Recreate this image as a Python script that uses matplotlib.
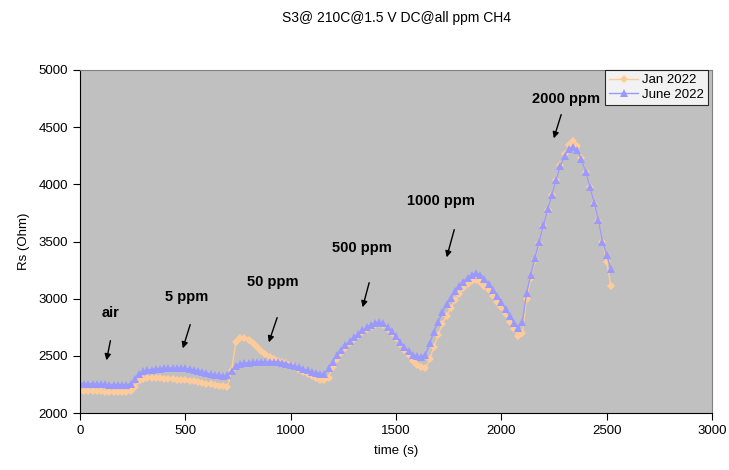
import numpy as np
import matplotlib
matplotlib.use("Agg")
import matplotlib.pyplot as plt

plt.rcParams['font.family'] = ['Liberation Sans', 'DejaVu Sans']

# time axis (s), one reading every 20 s
time_s = np.arange(0, 2521, 20)

# Jan 2022 readings (Ohm)
jan_2022 = [
    2195, 2195, 2190, 2190, 2190, 2190, 2188, 2188, 2188, 2188, 2185, 2185, 2190,
    2230, 2280, 2300, 2305, 2305, 2305, 2302, 2300, 2298, 2295, 2292, 2290, 2287,
    2283, 2278, 2272, 2265, 2258, 2250, 2243, 2237, 2232, 2228,
    2380, 2620, 2660, 2660, 2640, 2610, 2575, 2545, 2515, 2490, 2470, 2455, 2445,
    2435, 2420, 2400, 2380, 2360, 2340, 2320, 2305, 2293, 2287,
    2310, 2400, 2470, 2525, 2570, 2608, 2643, 2678, 2708, 2733, 2753, 2768, 2778,
    2768, 2738, 2698, 2653, 2603, 2553, 2503, 2458, 2423, 2400, 2390,
    2470, 2580, 2680, 2780, 2850, 2920, 2985, 3040, 3090, 3130, 3155, 3165,
    3150, 3115, 3075, 3025, 2975, 2925, 2865, 2800, 2735, 2670, 2700,
    3000, 3180, 3340, 3490, 3635, 3775, 3910, 4040, 4165, 4265, 4340, 4375,
    4335, 4230, 4110, 3980, 3830, 3680, 3500, 3320, 3110,
]

# June 2022 readings (Ohm)
june_2022 = [
    2260, 2258, 2255, 2255, 2252, 2250, 2250, 2248, 2248, 2247, 2247, 2248, 2255,
    2300, 2345, 2365, 2375, 2380, 2385, 2388, 2390, 2392, 2393, 2393, 2392, 2390,
    2385, 2378, 2370, 2360, 2350, 2340, 2333, 2328, 2325, 2328,
    2370, 2415, 2430, 2437, 2440, 2442, 2443, 2445, 2447, 2448, 2448, 2445, 2440,
    2432, 2422, 2410, 2398, 2385, 2372, 2360, 2350, 2345, 2345,
    2390, 2450, 2505, 2555, 2595, 2630, 2665, 2695, 2725, 2750, 2770, 2785, 2795,
    2785, 2755, 2715, 2670, 2625, 2580, 2540, 2510, 2495, 2490, 2510,
    2610, 2710, 2800, 2880, 2950, 3010, 3065, 3110, 3150, 3185, 3210, 3222,
    3210, 3175, 3130, 3080, 3025, 2970, 2910, 2850, 2790, 2745, 2800,
    3050, 3210, 3360, 3500, 3640, 3780, 3910, 4040, 4160, 4250, 4310, 4330,
    4300, 4220, 4110, 3980, 3840, 3690, 3500, 3380, 3260,
]

# annotations: label, text position (t, Rs), arrow tail, arrow head
labels = ['air', '5 ppm', '50 ppm', '500 ppm', '1000 ppm', '2000 ppm']
label_pos = [(147, 2875), (508, 3015), (916, 3146), (1338, 3443), (1713, 3854), (2307, 4746)]
arrow_tail = [(147, 2656), (527, 2796), (940, 2857), (1376, 3163), (1780, 3627), (2288, 4633)]
arrow_head = [(123, 2437), (484, 2542), (892, 2595), (1338, 2901), (1737, 3338), (2245, 4379)]

fig = plt.figure(figsize=(7.29, 4.70), dpi=100)
ax = fig.add_axes([80 / 729, 1 - 413 / 470, 632 / 729, 343 / 470])
ax.set_facecolor('#C0C0C0')

ax.plot(time_s, jan_2022, color='#FFCC99', marker='D', markersize=4.5,
        markeredgewidth=0, linewidth=1, label='Jan 2022')
ax.plot(time_s, june_2022, color='#9999FF', marker='^', markersize=6,
        markeredgewidth=0, linewidth=1, label='June 2022')

for txt, pos, tail, head in zip(labels, label_pos, arrow_tail, arrow_head):
    ax.text(pos[0], pos[1], txt, fontsize=10.5, fontweight='bold', ha='center', va='center')
    ax.annotate('', xy=head, xytext=tail,
                arrowprops=dict(arrowstyle='-|>', color='black', lw=1, mutation_scale=9))

ax.set_xlim(0, 3000)
ax.set_ylim(2000, 5000)
ax.set_xticks(range(0, 3001, 500))
ax.set_yticks(range(2000, 5001, 500))
ax.tick_params(labelsize=9.5, length=5, direction='out', width=0.8)
for side in ['left', 'bottom']:
    ax.spines[side].set_color('black')
for side in ['top', 'right']:
    ax.spines[side].set_color('#808080')

ax.set_xlabel('time (s)', fontsize=9.5, labelpad=6)
ax.set_ylabel('Rs (Ohm)', fontsize=9.5, labelpad=6)

fig.text(396 / 729, 1 - 18 / 470, 'S3@ 210C@1.5 V DC@all ppm CH4', fontsize=10,
         ha='center', va='center')

leg = ax.legend(loc='upper right', bbox_to_anchor=(1 - 4 / 632, 1.0), fontsize=9.5,
                frameon=True, fancybox=False, borderpad=0.3, handlelength=2.2,
                handletextpad=0.3, labelspacing=0.2, borderaxespad=0)
leg.get_frame().set_edgecolor('black')
leg.get_frame().set_linewidth(0.8)

fig.savefig('out.png', dpi=100)
